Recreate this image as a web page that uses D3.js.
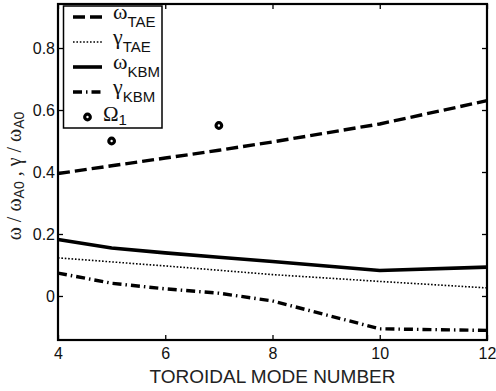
<!DOCTYPE html>
<html>
<head>
<meta charset="utf-8">
<script src="https://cdn.jsdelivr.net/npm/d3@7"></script>
<style>
  html, body { margin: 0; padding: 0; background: #fff; }
  svg { display: block; }
  .tick text { font-family: "Liberation Sans", Arial, sans-serif; font-size: 16px; fill: #111; }
</style>
</head>
<body>
<svg id="chart" width="496" height="391"></svg>
<script>
// Toroidal mode numbers and the computed frequencies / growth rates
const modes = [4, 5, 6, 7, 8, 10, 12];
const omegaTAE = [0.395, 0.42, 0.445, 0.47, 0.497, 0.555, 0.63];
const gammaTAE = [0.123, 0.11, 0.097, 0.083, 0.069, 0.047, 0.026];
const omegaKBM = [0.182, 0.155, 0.139, 0.125, 0.111, 0.082, 0.093];
const gammaKBM = [0.074, 0.041, 0.023, 0.009, -0.016, -0.106, -0.111];
const omega1Modes = [5, 7];
const omega1 = [0.50, 0.55];

const xTicks = [4, 6, 8, 10, 12];
const yTicks = [0, 0.2, 0.4, 0.6, 0.8];

const svg = d3.select("#chart");
const plotL = 58, plotR = 487, plotT = 4, plotB = 340;

const x = d3.scaleLinear().domain([4, 12]).range([plotL, plotR]);
const y = d3.scaleLinear().domain([-0.142, 0.942]).range([plotB, plotT]);

svg.append("rect").attr("width", 496).attr("height", 391).attr("fill", "#fff");

// axes with inward ticks on all four sides
const yFmt = d => d === 0 ? "0" : d.toFixed(1);
const gB = svg.append("g").attr("transform", `translate(0,${plotB})`)
  .call(d3.axisBottom(x).tickValues(xTicks).tickSizeInner(-5).tickSizeOuter(0).tickPadding(8));
const gT = svg.append("g").attr("transform", `translate(0,${plotT})`)
  .call(d3.axisTop(x).tickValues(xTicks).tickSizeInner(-5).tickSizeOuter(0).tickFormat(""));
const gL = svg.append("g").attr("transform", `translate(${plotL},0)`)
  .call(d3.axisLeft(y).tickValues(yTicks).tickSizeInner(-5).tickSizeOuter(0).tickPadding(3).tickFormat(yFmt));
const gR = svg.append("g").attr("transform", `translate(${plotR},0)`)
  .call(d3.axisRight(y).tickValues(yTicks).tickSizeInner(-5).tickSizeOuter(0).tickFormat(""));
[gB, gT, gL, gR].forEach(g => {
  g.select(".domain").remove();
  g.selectAll(".tick line").attr("stroke", "#000").attr("stroke-width", 1.3);
});
gL.selectAll(".tick text").attr("dy", "0.34em");

// series lines
const pts = vals => modes.map((m, i) => [m, vals[i]]);
const line = d3.line().x(d => x(d[0])).y(d => y(d[1]));

const series = [
  { vals: omegaTAE, width: 3.4, dash: "12,5" },
  { vals: gammaTAE, width: 1.6, dash: "1.6,1.8" },
  { vals: omegaKBM, width: 3.6, dash: null },
  { vals: gammaKBM, width: 3.4, dash: "9,4,1.5,4" }
];
series.forEach(s => {
  svg.append("path")
    .attr("d", line(pts(s.vals)))
    .attr("fill", "none")
    .attr("stroke", "#000")
    .attr("stroke-width", s.width)
    .attr("stroke-dasharray", s.dash);
});

// Omega_1 ring markers
const ring = sel => sel.attr("r", 2.8).attr("fill", "#fff").attr("stroke", "#000").attr("stroke-width", 3.2);
svg.selectAll("circle.om1")
  .data(omega1Modes.map((m, i) => [m, omega1[i]]))
  .join("circle")
  .attr("class", "om1")
  .attr("cx", d => x(d[0])).attr("cy", d => y(d[1]))
  .call(ring);

// frame
svg.append("rect")
  .attr("x", plotL).attr("y", plotT).attr("width", plotR - plotL).attr("height", plotB - plotT)
  .attr("fill", "none").attr("stroke", "#000").attr("stroke-width", 2.2);

// legend
const lg = svg.append("g");
lg.append("rect").attr("x", 63.5).attr("y", 6).attr("width", 98.5).attr("height", 122)
  .attr("fill", "#fff").attr("stroke", "#000").attr("stroke-width", 1.5);

const rows = [17, 42, 67, 92, 117];
const entries = [
  { sym: "ω", sub: "TAE", s: series[0] },
  { sym: "γ", sub: "TAE", s: series[1] },
  { sym: "ω", sub: "KBM", s: series[2] },
  { sym: "γ", sub: "KBM", s: series[3] }
];
const serif = "'Liberation Serif', 'Times New Roman', serif";
const sans = "'Liberation Sans Narrow', 'Liberation Sans', Arial, sans-serif";

entries.forEach((e, i) => {
  const ry = rows[i];
  lg.append("line").attr("x1", 73).attr("x2", 102).attr("y1", ry).attr("y2", ry)
    .attr("stroke", "#000").attr("stroke-width", e.s.width).attr("stroke-dasharray", e.s.dash);
  const t = lg.append("text").attr("x", 113).attr("y", ry + 2).attr("fill", "#111");
  t.append("tspan").attr("font-family", serif).attr("font-size", 22).text(e.sym);
  t.append("tspan").attr("font-family", sans).attr("font-size", 15).attr("dy", 8).text(e.sub);
});
lg.append("circle").attr("cx", 87.5).attr("cy", rows[4]).call(ring);
const tO = lg.append("text").attr("x", 103).attr("y", rows[4] + 4).attr("fill", "#111");
tO.append("tspan").attr("font-family", serif).attr("font-size", 21).text("Ω");
tO.append("tspan").attr("font-family", sans).attr("font-size", 15).attr("dy", 4).text("1");

// axis titles
svg.append("text")
  .attr("x", (plotL + plotR) / 2).attr("y", 383)
  .attr("text-anchor", "middle")
  .attr("font-family", "'Liberation Sans', Arial, sans-serif")
  .attr("font-size", 19).attr("fill", "#222")
  .text("TOROIDAL MODE NUMBER");

const yl = svg.append("text")
  .attr("transform", "translate(21,176) rotate(-90)")
  .attr("text-anchor", "middle").attr("fill", "#222");
const ySubSans = "'Liberation Sans', Arial, sans-serif";
yl.append("tspan").attr("font-family", serif).attr("font-size", 20).text("ω / ω");
yl.append("tspan").attr("font-family", ySubSans).attr("font-size", 14).attr("dy", 3).text("A0");
yl.append("tspan").attr("font-family", serif).attr("font-size", 20).attr("dy", -3).text(" , γ / ω");
yl.append("tspan").attr("font-family", ySubSans).attr("font-size", 14).attr("dy", 3).text("A0");
</script>
</body>
</html>
